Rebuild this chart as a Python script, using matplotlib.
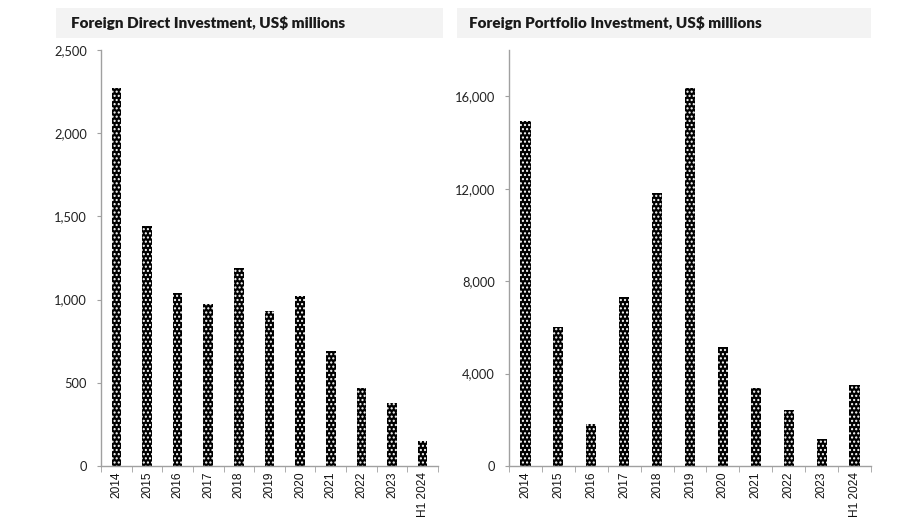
import matplotlib
matplotlib.use("Agg")
import matplotlib.pyplot as plt
from matplotlib.patches import Rectangle
from matplotlib.ticker import FuncFormatter
import numpy as np

categories = ["2014", "2015", "2016", "2017", "2018", "2019", "2020", "2021", "2022", "2023", "H1 2024"]
fdi_values = [2272, 1441, 1040, 975, 1190, 931, 1021, 694, 466, 378, 150]
fpi_values = [14920, 6000, 1818, 7310, 11805, 16360, 5150, 3377, 2437, 1156, 3494]

fdi_title = "Foreign Direct Investment, US$ millions"
fpi_title = "Foreign Portfolio Investment, US$ millions"
fdi_yticks = [0, 500, 1000, 1500, 2000, 2500]
fpi_yticks = [0, 4000, 8000, 12000, 16000]

W, H = 900, 529
fig = plt.figure(figsize=(W / 100, H / 100), dpi=100)


def fx(px):
    return px / W


def fy(py):
    return 1 - py / H


def make_axes(left, right, top, bottom):
    return fig.add_axes([fx(left), fy(bottom), fx(right) - fx(left), fy(top) - fy(bottom)])


def style(ax, values, yticks, ymax):
    x = np.arange(len(categories))
    ax.bar(x, values, width=0.31, color="black", edgecolor="white",
           linewidth=0, hatch="....", zorder=2)
    ax.set_xlim(-0.5, len(categories) - 0.5)
    ax.set_ylim(0, ymax)
    ax.set_yticks(yticks)
    ax.yaxis.set_major_formatter(FuncFormatter(lambda v, p: f"{int(v):,}"))
    ax.set_xticks(x)
    ax.set_xticklabels(categories, rotation=90, fontfamily="Liberation Sans",
                       fontsize=8.6, color="#111111")
    ax.set_xticks(np.arange(-0.5, len(categories)), minor=True)
    ax.tick_params(axis="x", which="major", length=0, pad=4)
    ax.tick_params(axis="x", which="minor", length=4, color="#a0a0a0", direction="out")
    ax.tick_params(axis="y", length=3, color="#a0a0a0", direction="out", pad=7)
    for lab in ax.get_yticklabels():
        lab.set_fontfamily("Lato")
        lab.set_fontsize(9.3)
        lab.set_color("#222222")
    for s in ("top", "right"):
        ax.spines[s].set_visible(False)
    for s in ("left", "bottom"):
        ax.spines[s].set_color("#a0a0a0")
        ax.spines[s].set_linewidth(1.0)


ax1 = make_axes(101, 438, 50, 466)
style(ax1, fdi_values, fdi_yticks, 2500)

ax2 = make_axes(509, 871, 50, 466)
style(ax2, fpi_values, fpi_yticks, 18000)

# title boxes
for (l, r, tx, title) in [(56, 443, 71, fdi_title), (457, 871, 469, fpi_title)]:
    fig.patches.append(Rectangle((fx(l), fy(38)), fx(r) - fx(l), fy(8) - fy(38),
                                 transform=fig.transFigure, facecolor="#f3f3f3",
                                 edgecolor="none", zorder=0))
    fig.text(fx(tx), fy(23), title, fontfamily="Lato", fontweight="heavy",
             fontsize=11, color="#1a1a1a", va="center", ha="left")

fig.savefig("out.png", dpi=100)
